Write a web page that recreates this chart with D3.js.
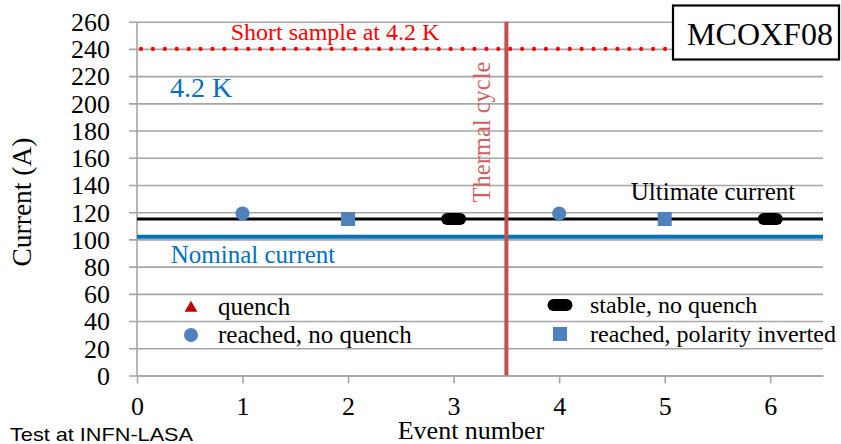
<!DOCTYPE html>
<html>
<head>
<meta charset="utf-8">
<script src="https://cdn.jsdelivr.net/npm/d3@7"></script>
<style>
  html, body { margin: 0; padding: 0; background: #fff; }
  svg { display: block; }
</style>
</head>
<body>
<svg id="chart" width="841" height="444"></svg>
<script>
// Magnet training events, MCOXF08
const eventNumbers = [1, 2, 3, 4, 5, 6];
const eventCurrents = [119, 115, 115, 119, 115, 115];
const eventTypes = ["reached", "inverted", "stable", "reached", "inverted", "stable"];

const yTicks = [0, 20, 40, 60, 80, 100, 120, 140, 160, 180, 200, 220, 240, 260];
const xTicks = [0, 1, 2, 3, 4, 5, 6];

const shortSampleCurrent = 240;
const ultimateCurrent = 115;
const nominalCurrent = 102;
const thermalCycleAt = 3.5;

const legendLeft = [
  { type: "quench", label: "quench" },
  { type: "reached", label: "reached, no quench" }
];
const legendRight = [
  { type: "stable", label: "stable, no quench" },
  { type: "inverted", label: "reached, polarity inverted" }
];

const SERIF = "'Liberation Serif', 'Times New Roman', Times, serif";
const SANS = "'Liberation Sans', Arial, sans-serif";

const svg = d3.select("#chart");
const x = d3.scaleLinear().domain([0, 6.5]).range([137, 823]);
const y = d3.scaleLinear().domain([0, 260]).range([375.5, 21.7]);

const gridColor = "#a6a6a6";
const markerBlue = "#4f81bd";
const lineBlue = "#0070c0";
const cycleRed = "#c0504d";

function label(sel, size, color) {
  return sel.style("font-family", SERIF).style("font-size", size + "px").attr("fill", color);
}

// horizontal gridlines with outer ticks
const yAxis = d3.axisLeft(y).tickValues(yTicks).tickFormat(d3.format("d"))
  .tickSize(-(x.range()[1] - x.range()[0])).tickSizeOuter(0).tickPadding(27);
const gy = svg.append("g").attr("transform", `translate(${x(0)},0)`).call(yAxis);
gy.select(".domain").remove();
gy.selectAll(".tick line").attr("x1", -8).attr("stroke", gridColor).attr("stroke-width", 1.6);
label(gy.selectAll(".tick text"), 26, "#000").attr("dy", "0.34em");

// x axis
const xAxis = d3.axisBottom(x).tickValues(xTicks).tickFormat(d3.format("d"))
  .tickSize(8).tickSizeOuter(0).tickPadding(13);
const gx = svg.append("g").attr("transform", `translate(0,${y(0)})`).call(xAxis);
gx.select(".domain").attr("stroke", gridColor).attr("stroke-width", 1.6);
gx.selectAll(".tick line").attr("stroke", gridColor).attr("stroke-width", 1.6);
label(gx.selectAll(".tick text"), 26, "#000");

// vertical axis line
svg.append("line").attr("x1", x(0)).attr("x2", x(0)).attr("y1", y(260)).attr("y2", y(0))
  .attr("stroke", gridColor).attr("stroke-width", 1.6);

// short sample limit (dotted)
svg.append("line")
  .attr("x1", x(0) + 4).attr("x2", x(6.5)).attr("y1", y(shortSampleCurrent)).attr("y2", y(shortSampleCurrent))
  .attr("stroke", "#ff0000").attr("stroke-width", 4.2).attr("stroke-linecap", "round")
  .attr("stroke-dasharray", "0.01 11.9");

// nominal and ultimate current lines
svg.append("line").attr("x1", x(0)).attr("x2", x(6.5)).attr("y1", y(nominalCurrent)).attr("y2", y(nominalCurrent))
  .attr("stroke", lineBlue).attr("stroke-width", 4);
svg.append("line").attr("x1", x(0)).attr("x2", x(6.5)).attr("y1", y(ultimateCurrent)).attr("y2", y(ultimateCurrent))
  .attr("stroke", "#000").attr("stroke-width", 3.2);

// thermal cycle marker
svg.append("line").attr("x1", x(thermalCycleAt)).attr("x2", x(thermalCycleAt)).attr("y1", y(260)).attr("y2", y(0))
  .attr("stroke", cycleRed).attr("stroke-width", 4);

function drawMarker(g, type, cx, cy) {
  if (type === "reached") {
    g.append("circle").attr("cx", cx).attr("cy", cy).attr("r", 7).attr("fill", markerBlue);
  } else if (type === "inverted") {
    g.append("rect").attr("x", cx - 7).attr("y", cy - 7).attr("width", 14).attr("height", 14).attr("fill", markerBlue);
  } else if (type === "stable") {
    g.append("rect").attr("x", cx - 12.5).attr("y", cy - 6).attr("width", 25).attr("height", 12)
      .attr("rx", 6).attr("ry", 6).attr("fill", "#000");
  } else if (type === "quench") {
    g.append("path").attr("d", d3.symbol(d3.symbolTriangle, 70)())
      .attr("transform", `translate(${cx},${cy + 1})`).attr("fill", "#c00000");
  }
}

// events
const gm = svg.append("g");
eventNumbers.forEach((e, i) => drawMarker(gm, eventTypes[i], x(e), y(eventCurrents[i])));

// annotations
label(svg.append("text").attr("x", 335).attr("y", 40).attr("text-anchor", "middle"), 24, "#ff0000")
  .text("Short sample at 4.2 K");
label(svg.append("text").attr("x", 170).attr("y", 97), 28, lineBlue).text("4.2 K");
label(svg.append("text").attr("transform", "translate(490,132) rotate(-90)").attr("text-anchor", "middle"), 24.5, "#d0605d")
  .text("Thermal cycle");
label(svg.append("text").attr("x", 713).attr("y", 200).attr("text-anchor", "middle"), 25, "#000")
  .text("Ultimate current");
label(svg.append("text").attr("x", 253).attr("y", 263).attr("text-anchor", "middle"), 25, lineBlue)
  .text("Nominal current");

// legends
const gl = svg.append("g");
legendLeft.forEach((d, i) => {
  const cy = 307 + i * 28;
  drawMarker(gl, d.type, 191, cy);
  label(gl.append("text").attr("x", 218).attr("y", cy + 8), 25, "#000").text(d.label);
});
legendRight.forEach((d, i) => {
  const cy = 305 + i * 29;
  drawMarker(gl, d.type, 560, cy);
  label(gl.append("text").attr("x", 590).attr("y", cy + 8), 24, "#000").text(d.label);
});

// title box
svg.append("rect").attr("x", 673).attr("y", 5.5).attr("width", 166).attr("height", 54)
  .attr("fill", "#fff").attr("stroke", "#000").attr("stroke-width", 2.2);
label(svg.append("text").attr("x", 760).attr("y", 45).attr("text-anchor", "middle"), 32, "#000")
  .text("MCOXF08");

// axis titles
label(svg.append("text").attr("transform", "translate(31,202) rotate(-90)").attr("text-anchor", "middle"), 27.5, "#000")
  .text("Current (A)");
label(svg.append("text").attr("x", 471).attr("y", 439).attr("text-anchor", "middle"), 26, "#000")
  .text("Event number");
svg.append("text").attr("x", 10).attr("y", 441)
  .style("font-family", SANS).style("font-size", "19px").attr("fill", "#000")
  .attr("textLength", 183).attr("lengthAdjust", "spacingAndGlyphs")
  .text("Test at INFN-LASA");
</script>
</body>
</html>
